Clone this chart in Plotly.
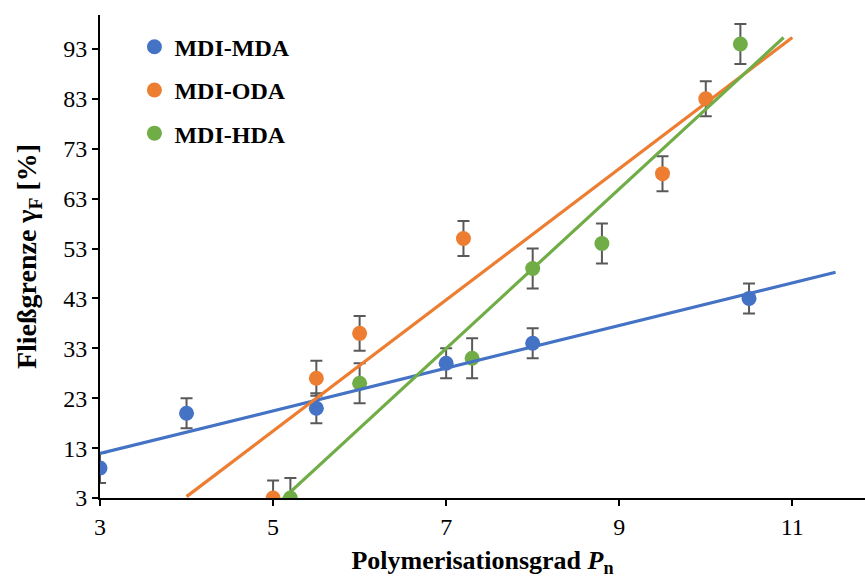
import numpy as np
import plotly.graph_objects as go

# Data
series_names = ["MDI-MDA", "MDI-ODA", "MDI-HDA"]
colors = ["#4472C4", "#ED7D31", "#70AD47"]

mda_x = [3, 4, 5.5, 7, 8, 10.5]
mda_y = [9, 20, 21, 30, 34, 43]
mda_err = [3, 3, 3, 3, 3, 3]

oda_x = [5, 5.5, 6, 7.2, 9.5, 10]
oda_y = [3, 27, 36, 55, 68, 83]
oda_err = [3.5, 3.5, 3.5, 3.5, 3.5, 3.5]

hda_x = [5.2, 6, 7.3, 8, 8.8, 10.4]
hda_y = [3, 26, 31, 49, 54, 94]
hda_err = [4, 4, 4, 4, 4, 4]

# trendline x extents (Excel linear trendlines)
trend_ranges = [(3, 11.5), (4, 11), (5.0, 10.9)]

x_ticks = [3, 5, 7, 9, 11]
y_ticks = [3, 13, 23, 33, 43, 53, 63, 73, 83, 93]

FONT = "Liberation Serif, Times New Roman, serif"

fig = go.Figure()
data = [(mda_x, mda_y, mda_err), (oda_x, oda_y, oda_err), (hda_x, hda_y, hda_err)]

for (xs, ys, es), name, c in zip(data, series_names, colors):
    fig.add_trace(go.Scatter(
        x=xs, y=ys, mode="markers", name=name, legendgroup=name,
        marker=dict(color=c, size=15),
        error_y=dict(type="data", array=es, visible=True, color="#595959",
                     thickness=2, width=6),
        cliponaxis=True,
    ))

for (xs, ys, es), (x0, x1), c in zip(data, trend_ranges, colors):
    slope, intercept = np.polyfit(xs, ys, 1)
    tx = np.array([x0, x1])
    fig.add_trace(go.Scatter(
        x=tx, y=slope * tx + intercept, mode="lines",
        line=dict(color=c, width=3.2), showlegend=False, hoverinfo="skip",
    ))

fig.update_layout(
    width=865, height=578,
    margin=dict(l=100, r=0, t=15, b=80),
    paper_bgcolor="white", plot_bgcolor="white",
    font=dict(family=FONT, size=24, color="black"),
    legend=dict(
        x=0.045, y=0.98, xanchor="left", yanchor="top",
        font=dict(family=FONT, size=24, color="black", weight="bold"),
        bgcolor="rgba(0,0,0,0)", itemwidth=30, tracegroupgap=9,
    ),
    showlegend=True,
)
fig.update_xaxes(
    range=[3, 11.84], tickvals=x_ticks, ticktext=[str(v) for v in x_ticks],
    showline=True, linecolor="black", linewidth=2, ticks="outside",
    ticklen=6, tickwidth=1.5, tickcolor="black", showgrid=False, zeroline=False,
    tickfont=dict(family=FONT, size=24),
    title=dict(text="Polymerisationsgrad <i>P</i><sub>n</sub>",
               font=dict(family=FONT, size=26, weight="bold"), standoff=12),
)
fig.update_yaxes(
    range=[3, 99.8], tickvals=y_ticks, ticktext=[str(v) for v in y_ticks],
    showline=True, linecolor="black", linewidth=2, ticks="outside",
    ticklen=6, tickwidth=1.5, tickcolor="black", showgrid=False, zeroline=False,
    tickfont=dict(family=FONT, size=24),
    title=dict(text="Fließgrenze γ<sub>F</sub> [%]",
               font=dict(family=FONT, size=28, weight="bold"), standoff=18),
)

fig.write_html("out.html")
